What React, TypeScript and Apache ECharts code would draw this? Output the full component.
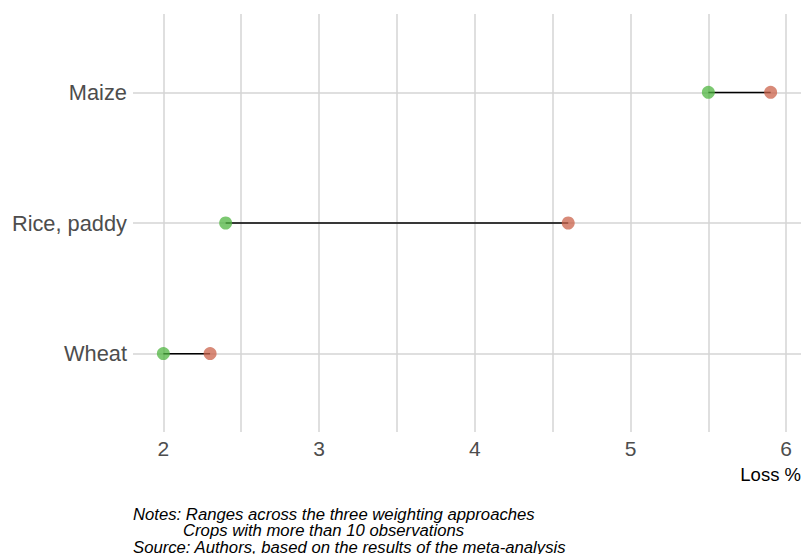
import React, { useEffect, useRef } from "react";
import * as echarts from "echarts";

const crops = ["Maize", "Rice, paddy", "Wheat"];
const lowValues = [5.5, 2.4, 2.0];
const highValues = [5.9, 4.6, 2.3];
const xTickLabels = [2, 3, 4, 5, 6];
const xGridValues = [2, 2.5, 3, 3.5, 4, 4.5, 5, 5.5, 6];
const notes = [
  "Notes: Ranges across the three weighting approaches",
  "Crops with more than 10 observations",
  "Source: Authors, based on the results of the meta-analysis",
];

const FONT = "'Liberation Sans', Arial, sans-serif";

export default function App() {
  const ref = useRef<HTMLDivElement>(null);
  useEffect(() => {
    document.body.style.margin = "0";
    if (!ref.current) return;
    const chart = echarts.init(ref.current, undefined, { renderer: "svg" });
    const n = crops.length;
    const pos = crops.map((_, i) => n - i);
    const yValues = pos.slice().sort((a, b) => a - b);
    const labelFor = (v: number) => {
      const idx = pos.indexOf(Math.round(v));
      return idx >= 0 ? crops[idx] : "";
    };
    chart.setOption({
      animation: false,
      backgroundColor: "#ffffff",
      grid: { left: 133, right: 1, top: 14, bottom: 122 },
      xAxis: {
        type: "value",
        min: 1.805,
        max: 6.095,
        axisLine: { show: false },
        axisTick: { show: false, customValues: xGridValues },
        axisLabel: {
          customValues: xTickLabels,
          fontSize: 21,
          color: "#4d4d4d",
          fontFamily: FONT,
          margin: 6,
        },
        splitLine: { show: true, lineStyle: { color: "#d4d4d4", width: 1.5 } },
      },
      yAxis: {
        type: "value",
        min: 0.4,
        max: n + 0.6,
        axisLine: { show: false },
        axisTick: { show: false, customValues: yValues },
        axisLabel: {
          customValues: yValues,
          formatter: (v: number) => labelFor(v),
          fontSize: 21.8,
          color: "#4d4d4d",
          fontFamily: FONT,
          margin: 6,
          padding: [4, 0, 0, 0],
        },
        splitLine: { show: true, lineStyle: { color: "#d4d4d4", width: 1.5 } },
      },
      series: [
        {
          type: "custom",
          data: crops.map((_, i) => [lowValues[i], highValues[i], pos[i]]),
          encode: { x: [0, 1], y: 2 },
          renderItem: (params: any, api: any) => {
            const a = api.coord([api.value(0), api.value(2)]);
            const b = api.coord([api.value(1), api.value(2)]);
            return {
              type: "line",
              shape: { x1: a[0], y1: a[1], x2: b[0], y2: b[1] },
              style: { stroke: "#000000", lineWidth: 1.5 },
            };
          },
          z: 2,
        },
        {
          type: "scatter",
          data: crops.map((_, i) => [lowValues[i], pos[i]]),
          symbolSize: 13,
          itemStyle: { color: "rgb(80,182,66)", opacity: 0.75 },
          z: 3,
        },
        {
          type: "scatter",
          data: crops.map((_, i) => [highValues[i], pos[i]]),
          symbolSize: 13,
          itemStyle: { color: "rgb(203,99,75)", opacity: 0.75 },
          z: 3,
        },
      ],
      graphic: [
        {
          type: "text",
          right: 1,
          top: 465,
          style: {
            text: "Loss %",
            fontSize: 18.5,
            fill: "#000000",
            fontFamily: FONT,
          },
        },
        ...notes.map((t, i) => ({
          type: "text",
          left: [133, 183, 133][i],
          top: [506, 522, 539][i],
          style: {
            text: t,
            fontSize: 16.7,
            fontStyle: "italic",
            fill: "#000000",
            fontFamily: FONT,
          },
        })),
      ],
    });
    return () => chart.dispose();
  }, []);
  return <div ref={ref} style={{ width: 802, height: 554 }} />;
}
